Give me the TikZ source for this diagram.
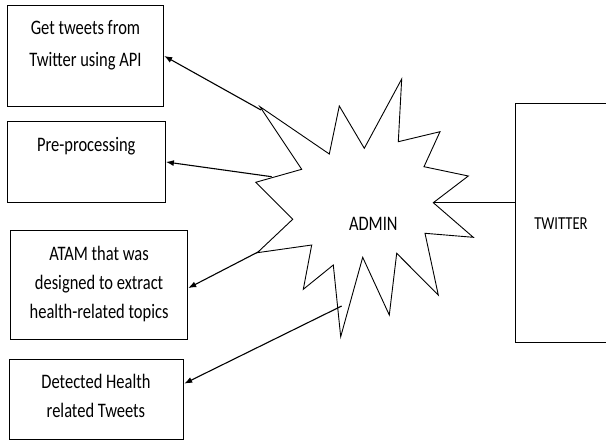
\documentclass[tikz,border=0pt]{standalone}
\usepackage{fontspec}
\setmainfont{Carlito}
\usetikzlibrary{positioning,arrows.meta}

\begin{document}
\begin{tikzpicture}
  [x=1pt,y=-1pt,
   box/.style={draw,line width=0.9pt,inner sep=0pt,anchor=north west},
   txt/.style={align=center,inner sep=0pt,xscale=0.8,transform shape,font=\fontsize{20.6}{29}\selectfont},
   >={Latex[length=8pt,width=6pt]}]
  \useasboundingbox (0,0) rectangle (606,440);
  \node[box,minimum width=156.6pt,minimum height=101pt] (b1) at (6.7,5) {};
  \node[box,minimum width=158.3pt,minimum height=81.6pt] (b2) at (6.7,120.7) {};
  \node[box,minimum width=177.3pt,minimum height=109.3pt] (b3) at (10,230) {};
  \node[box,minimum width=174pt,minimum height=79.7pt] (b4) at (9.3,359.3) {};
  \node[box,minimum width=93pt,minimum height=239pt] (tw) at (515,102.7) {};
  \node[txt,below=15pt of b1.north] (t1) {Get tweets from\\[3pt]Twitter using API};
  \node[txt,below=16.5pt of b2.north] (t2) {Pre-processing};
  \node[txt,below=15.6pt of b3.north] (t3) {ATAM that was\\designed to extract\\health-related topics};
  \node[txt,below=14.6pt of b4.north,xshift=-1pt] (t4) {Detected Health\\related Tweets};
  \node[txt,font=\fontsize{18.3}{22}\selectfont] (twt) at (561,224) {TWITTER};
  % admin burst
  \draw[line width=0.9pt,line join=miter] (401.7,79) -- (398.3,141.7) -- (440,131.7) -- (424,166.7)
    -- (468.3,176) -- (433.3,202.7) -- (473.3,237.3) -- (425,233.3) -- (438.3,295)
    -- (396.7,253.3) -- (389.3,315) -- (362.7,257.3) -- (340.7,336.7) -- (333.3,265)
    -- (303.3,289.3) -- (311.7,245) -- (257.3,252.7) -- (292.7,219.3) -- (255.7,182.3)
    -- (301.7,169.3) -- (260,106.7) -- (329.3,154) -- (339.3,106) -- (364.3,148.3) -- cycle;
  \node[txt] (admin) at (373.3,223.4) {ADMIN};
  \coordinate (s1) at (261,110);
  \coordinate (s2) at (271.7,176.7);
  \coordinate (s3) at (258,252);
  \coordinate (s4) at (341.7,306);
  \coordinate (s5) at (433.3,202.7);
 \path[-,draw,line width=1.1pt]
    (s1) edge[->] (b1.east)
    (s2) edge[->] (b2.east)
    (s3) edge[->] ([yshift=-3pt]b3.east)
    (s4) edge[->] ([yshift=16pt]b4.east)
    ;
 \path[draw,line width=0.9pt] (s5) -- (s5 -| tw.west);

\end{tikzpicture}
\end{document}
